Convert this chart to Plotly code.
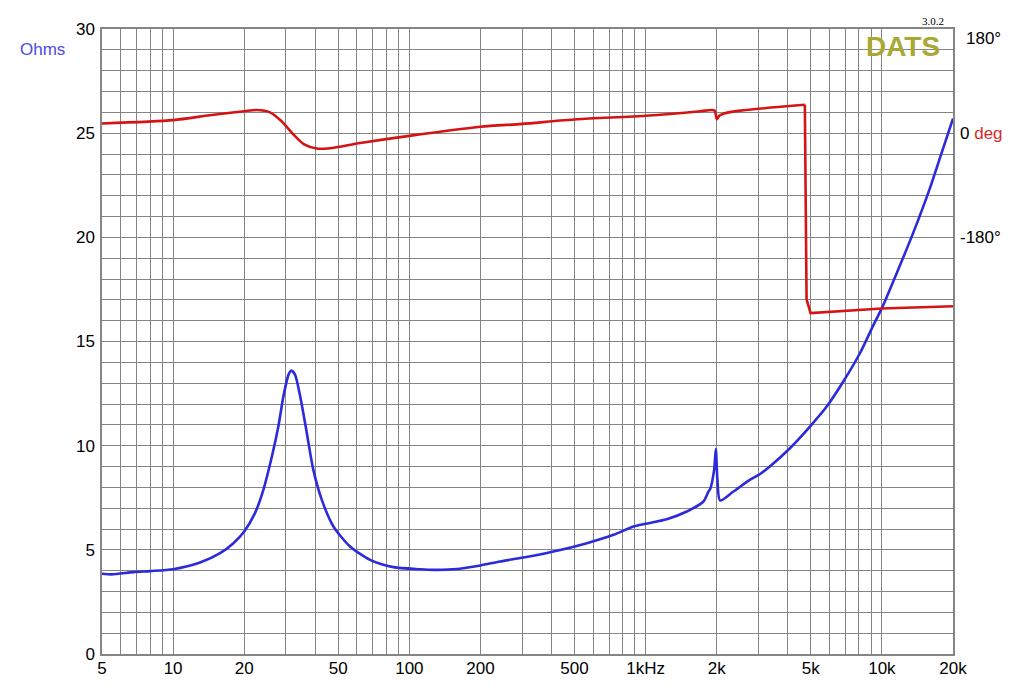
import plotly.graph_objects as go

# impedance magnitude (ohms)
imp_freq = [5, 5.5, 6.8, 8, 10, 13, 15.8, 18, 20, 22.2, 24.1, 26.2, 27.9, 29.3, 30.8, 31.6,
            32.8, 34.5, 36.8, 39.2, 42.6, 47.7, 56.1, 68.2, 85.6, 111, 126, 160, 200,
            242, 304, 407, 564, 731, 888, 1000, 1229, 1494, 1757, 1845, 1876, 1950,
            1982, 2013, 2066, 2353, 2769, 3053, 3365, 4091, 4971, 5853, 6877, 8094,
            9217, 10000, 11575, 13608, 16017, 17660, 20000]
imp_ohms = [3.85, 3.82, 3.93, 3.98, 4.07, 4.39, 4.84, 5.32, 5.88, 6.76, 7.88, 9.49, 10.93,
            12.37, 13.41, 13.6, 13.41, 12.37, 10.61, 8.85, 7.40, 6.12, 5.16, 4.52, 4.17,
            4.07, 4.04, 4.08, 4.25, 4.44, 4.63, 4.92, 5.32, 5.72, 6.12, 6.25, 6.47, 6.84,
            7.32, 7.80, 7.92, 8.85, 9.84, 8.37, 7.37, 7.80, 8.37, 8.64, 9.01, 9.89, 10.93,
            11.89, 13.09, 14.46, 15.8, 16.6, 18.3, 20.25, 22.4, 23.85, 25.7]

# phase (degrees); wraps by 360 just under 5 kHz
ph_freq = [5, 10, 14.3, 20, 22.6, 25.7, 28.7, 32.2, 35.7, 40.6, 46.2, 61.9, 100, 200, 300,
           511, 1000, 1709, 1900, 1960, 2003, 2050, 2147, 2516, 4720, 4800, 4990, 10000,
           20000]
ph_deg = [16.8, 22.6, 31, 38, 40, 36, 21, -1.7, -19, -26.6, -26, -17, -4.7, 11, 16,
          24, 30, 38, 40, 39, 24, 30, 34, 39, 49, -287, -311, -303, -299]
wrap_at = 24  # index of last point before the wrap

# axis grid / labels
x_grid = [5, 6, 7, 8, 9, 10, 20, 30, 40, 50, 60, 70, 80, 90, 100, 200, 300, 400, 500, 600,
          700, 800, 900, 1000, 2000, 3000, 4000, 5000, 6000, 7000, 8000, 9000, 10000, 20000]
x_labels = {5: "5", 10: "10", 20: "20", 50: "50", 100: "100", 200: "200", 500: "500",
            1000: "1kHz", 2000: "2k", 5000: "5k", 10000: "10k", 20000: "20k"}
y_grid = list(range(0, 31))
y_labels = {0: "0", 5: "5", 10: "10", 15: "15", 20: "20", 25: "25", 30: "30"}
ph_ticks = [0, -180]
ph_text = ["0 <span style='color:#d42a2a'>deg</span>", "-180°"]

font = "Liberation Sans, Arial, sans-serif"
grid_col = "#858585"
blue = "#2b2bdc"
red = "#d41414"

fig = go.Figure()
fig.add_trace(go.Scatter(x=imp_freq, y=imp_ohms, mode="lines", yaxis="y",
                         line=dict(color=blue, width=2.6, shape="spline", smoothing=0.7)))
fig.add_trace(go.Scatter(x=ph_freq[:wrap_at + 1], y=ph_deg[:wrap_at + 1], mode="lines",
                         yaxis="y2",
                         line=dict(color=red, width=2.6, shape="spline", smoothing=0.7)))
fig.add_trace(go.Scatter(x=ph_freq[wrap_at:], y=ph_deg[wrap_at:], mode="lines", yaxis="y2",
                         line=dict(color=red, width=2.6)))

# page body has an 8px margin, so the figure is sized to fit inside it
fig.update_layout(
    width=1008, height=678,
    margin=dict(l=94, r=63, t=21, b=32),
    paper_bgcolor="white", plot_bgcolor="white",
    showlegend=False,
    font=dict(family=font, size=17, color="black"),
    xaxis=dict(type="log", range=[0.69897, 4.30103],
               tickvals=x_grid, ticktext=[x_labels.get(v, "") for v in x_grid],
               showgrid=True, gridcolor=grid_col, gridwidth=1,
               showline=True, linecolor=grid_col, linewidth=1.5, mirror=True,
               ticks="", zeroline=False, tickangle=0, automargin=False,
               ticklabelstandoff=-2),
    yaxis=dict(range=[0, 30], tickvals=y_grid,
               ticktext=[y_labels.get(v, "") for v in y_grid],
               showgrid=True, gridcolor=grid_col, gridwidth=1,
               showline=True, linecolor=grid_col, linewidth=1.5, mirror=True,
               ticks="", zeroline=False, ticklabelstandoff=2, automargin=False),
    yaxis2=dict(range=[-900, 180], overlaying="y", side="right",
                tickvals=ph_ticks, ticktext=ph_text, showgrid=False, automargin=False,
                zeroline=False, ticks="", showline=False, ticklabelstandoff=6),
)

# white patch behind the logo
fig.add_shape(type="rect", xref="paper", yref="paper", x0=0.897, x1=0.995, y0=0.947, y1=1,
              fillcolor="white", line=dict(width=0), layer="between")
fig.add_annotation(text="<b>DATS</b>", xref="paper", yref="paper", x=0.9418, y=0.9728,
                   xanchor="center", yanchor="middle", showarrow=False,
                   font=dict(family=font, size=28, color="#a8a832"))
fig.add_annotation(text="3.0.2", xref="paper", yref="paper", x=0.992, y=1.0, yanchor="bottom",
                   xanchor="right", showarrow=False,
                   font=dict(family="Liberation Serif, Times New Roman, serif", size=11))
fig.add_annotation(text="Ohms", xref="paper", yref="paper", x=-0.099, y=0.968,
                   xanchor="left", yanchor="middle", showarrow=False,
                   font=dict(family=font, size=17, color="#4a4ae8"))
fig.add_annotation(text="180°", xref="paper", yref="y2", x=1.013, y=180, yshift=-9,
                   xanchor="left", yanchor="middle", showarrow=False,
                   font=dict(family=font, size=17))

fig.write_html("out.html")
